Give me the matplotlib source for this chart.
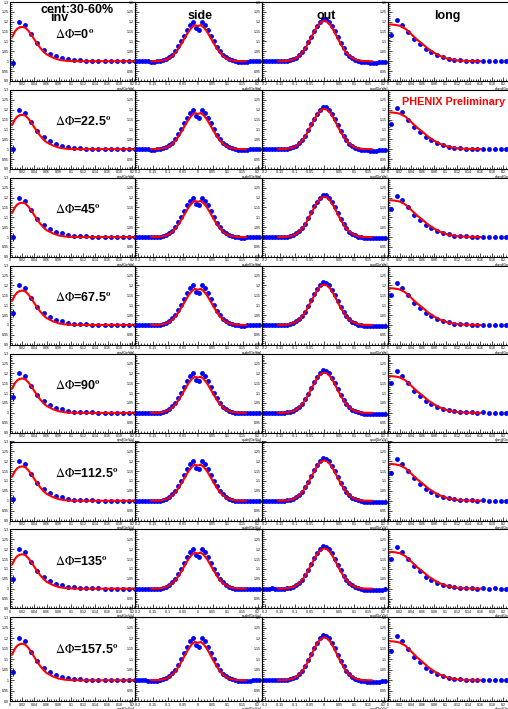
import numpy as np
import matplotlib
matplotlib.use("Agg")
import matplotlib.pyplot as plt
from matplotlib.ticker import MultipleLocator, FormatStrFormatter

plt.rcParams['font.family'] = ['Liberation Sans', 'DejaVu Sans']
plt.rcParams['mathtext.fontset'] = 'stix'

# ---- data ----
dphi_labels = ['0', '22.5', '45', '67.5', '90', '112.5', '135', '157.5']
col_titles = ['inv', 'side', 'out', 'long']
x_titles = ['qinv[GeV/c]', 'qside[GeV/c]', 'qout[GeV/c]', 'qlong[GeV/c]']

inv_q = [0.005, 0.015, 0.025, 0.035, 0.045, 0.055, 0.065, 0.075, 0.085, 0.095, 0.105,
         0.115, 0.125, 0.135, 0.145, 0.155, 0.165, 0.175, 0.185, 0.195, 0.205]
inv_c = [0.99, 1.200, 1.185, 1.137, 1.090, 1.059, 1.039, 1.025, 1.018, 1.010, 1.006,
         1.004, 1.003, 1.002, 1.001, 1.000, 1.000, 1.000, 1.000, 1.000, 1.000]
inv_err = [0.02, 0.005, 0.004, 0.003, 0.003, 0.002, 0.002, 0.002, 0.002, 0.002, 0.002,
           0.002, 0.002, 0.002, 0.002, 0.002, 0.002, 0.002, 0.002, 0.002, 0.002]
inv_first = [0.99, 1.00, 1.00, 1.06, 1.08, 1.01, 1.05, 1.04]   # first bin, per row

inv_fit_q = [0.004, 0.008, 0.012, 0.016, 0.02, 0.025, 0.03, 0.035, 0.04, 0.045, 0.05,
             0.055, 0.06, 0.07, 0.08, 0.09, 0.1, 0.12, 0.15, 0.2, 0.205]
inv_fit_c = [1.125, 1.150, 1.165, 1.172, 1.174, 1.170, 1.155, 1.134, 1.110, 1.087, 1.066,
             1.049, 1.035, 1.019, 1.008, 1.003, 1.001, 1.000, 1.000, 1.000, 1.000]

sym_q = [-0.205, -0.195, -0.185, -0.175, -0.165, -0.155, -0.145, -0.135, -0.125, -0.115,
         -0.105, -0.095, -0.085, -0.075, -0.065, -0.055, -0.045, -0.035, -0.025, -0.015,
         -0.005, 0.005, 0.015, 0.025, 0.035, 0.045, 0.055, 0.065, 0.075, 0.085,
         0.095, 0.105, 0.115, 0.125, 0.135, 0.145, 0.155, 0.165, 0.175, 0.185, 0.195, 0.205]
side_c = [1.000, 1.000, 1.000, 1.000, 0.999, 0.998, 0.998, 0.999, 1.000, 1.004,
          1.010, 1.020, 1.033, 1.050, 1.075, 1.100, 1.130, 1.160, 1.185, 1.200,
          1.168, 1.160, 1.200, 1.185, 1.160, 1.130, 1.100, 1.073, 1.050, 1.032,
          1.020, 1.010, 1.004, 1.000, 0.998, 0.997, 0.997, 0.998, 0.999, 1.000, 1.000, 1.000]
out_c = [1.000, 1.000, 1.000, 1.001, 1.000, 1.000, 1.000, 1.000, 1.002, 1.005,
         1.010, 1.018, 1.030, 1.046, 1.068, 1.095, 1.125, 1.155, 1.180, 1.200,
         1.215, 1.212, 1.200, 1.178, 1.152, 1.122, 1.092, 1.066, 1.044, 1.028,
         1.016, 1.008, 1.002, 0.998, 0.995, 0.994, 0.993, 0.993, 0.993, 0.994, 0.995, 0.996]

side_fit_q = [-0.155, -0.13, -0.11, -0.1, -0.09, -0.08, -0.07, -0.06, -0.05, -0.04, -0.03,
              -0.02, -0.01, 0.0, 0.01, 0.02, 0.03, 0.04, 0.05, 0.06, 0.07, 0.08, 0.09,
              0.1, 0.11, 0.13, 0.16]
side_fit_c = [1.000, 1.001, 1.006, 1.012, 1.021, 1.034, 1.052, 1.075, 1.100, 1.127, 1.152,
              1.171, 1.183, 1.178, 1.183, 1.171, 1.152, 1.127, 1.100, 1.075, 1.052, 1.034,
              1.021, 1.012, 1.006, 1.001, 1.000]
out_fit_c = [1.000, 1.001, 1.006, 1.012, 1.021, 1.034, 1.052, 1.076, 1.103, 1.132, 1.160,
             1.184, 1.199, 1.204, 1.199, 1.184, 1.160, 1.132, 1.103, 1.076, 1.052, 1.034,
             1.021, 1.012, 1.006, 1.001, 1.000]

long_q = [0.005, 0.015, 0.025, 0.035, 0.045, 0.055, 0.065, 0.075, 0.085, 0.095, 0.105,
          0.115, 0.125, 0.135, 0.145, 0.155, 0.165, 0.175, 0.185, 0.195, 0.205, 0.215]
long_c = [1.13, 1.21, 1.186, 1.150, 1.113, 1.087, 1.060, 1.045, 1.030, 1.021, 1.013,
          1.007, 1.004, 1.003, 1.002, 1.000, 1.002, 1.000, 1.001, 1.000, 1.000, 1.000]
long_first = [1.134, 1.125, 1.14, 1.15, 1.15, 1.14, 1.15, 1.14]

long_fit_q = [0.004, 0.01, 0.02, 0.03, 0.04, 0.05, 0.06, 0.07, 0.08, 0.09, 0.1,
              0.11, 0.12, 0.14, 0.16]
long_fit_c = [1.186, 1.185, 1.180, 1.165, 1.138, 1.110, 1.087, 1.062, 1.043, 1.027, 1.016,
              1.009, 1.004, 1.001, 1.000]

sym_err = [0.003] * len(sym_q)
long_err = [0.004] * len(long_q)

# ---- layout (pixels) ----
W, H = 508, 709
col_left = [10, 135, 262, 388]
col_width = [125, 127, 126, 127]
row_top0, row_pitch, frame_h = 2, 87.9, 79
xlims = [(0, 0.205), (-0.21, 0.215), (-0.21, 0.215), (0, 0.22)]
xmajor = [0.02, 0.05, 0.05, 0.02]
pt_style = dict(fmt='o', color='blue', ms=3.5, mew=0, ecolor='black',
                elinewidth=0.6, capsize=0, zorder=2)

fig = plt.figure(figsize=(W / 100, H / 100), dpi=100)

for r in range(8):
    for c in range(4):
        top = row_top0 + row_pitch * r
        h = frame_h if r < 7 else 84
        ax = fig.add_axes([col_left[c] / W, 1 - (top + h) / H,
                           col_width[c] / W, h / H])
        if c == 0:
            y = list(inv_c)
            y[0] = inv_first[r]
            ax.errorbar(inv_q, y, yerr=inv_err, **pt_style)
            ax.plot(inv_fit_q, inv_fit_c, color='red', lw=1.5, zorder=3)
        elif c == 1:
            ax.errorbar(sym_q, side_c, yerr=sym_err, **pt_style)
            ax.plot(side_fit_q, side_fit_c, color='red', lw=1.5, zorder=3)
        elif c == 2:
            ax.errorbar(sym_q, out_c, yerr=sym_err, **pt_style)
            ax.plot(side_fit_q, out_fit_c, color='red', lw=1.5, zorder=3)
        else:
            y = list(long_c)
            y[0] = long_first[r]
            ax.errorbar(long_q, y, yerr=long_err, **pt_style)
            ax.plot(long_fit_q, long_fit_c, color='red', lw=1.5, zorder=3)

        ax.set_xlim(*xlims[c])
        ax.set_ylim(0.9, 1.3)
        ax.xaxis.set_major_locator(MultipleLocator(xmajor[c]))
        ax.xaxis.set_minor_locator(MultipleLocator(xmajor[c] / 5))
        ax.yaxis.set_major_locator(MultipleLocator(0.05))
        ax.yaxis.set_minor_locator(MultipleLocator(0.01))
        ax.xaxis.set_major_formatter(FormatStrFormatter('%g'))
        ax.yaxis.set_major_formatter(FormatStrFormatter('%g'))
        ax.tick_params(which='both', direction='in', top=False, right=False,
                       labelsize=2.5, pad=1, width=0.5)
        ax.tick_params(which='major', length=3)
        ax.tick_params(which='minor', length=1.5)
        for sp in ax.spines.values():
            sp.set_linewidth(0.8)
        ax.set_xlabel(x_titles[c], fontsize=2.5, loc='right', labelpad=0.3)
        ax.patch.set_alpha(0)


def ftext(x, y, s, **kw):
    fig.text(x / W, 1 - y / H, s, **kw)


ftext(77, 10, 'cent:30-60%', ha='center', va='center', fontsize=9, fontweight='bold')
ftext(59, 18, 'inv', ha='center', va='center', fontsize=9, fontweight='bold')
ftext(200, 16, 'side', ha='center', va='center', fontsize=9, fontweight='bold')
ftext(326, 16, 'out', ha='center', va='center', fontsize=9, fontweight='bold')
ftext(447, 16, 'long', ha='center', va='center', fontsize=9, fontweight='bold')
ftext(454, 102, 'PHENIX Preliminary', ha='center', va='center', fontsize=7.8,
      fontweight='bold', color='red')
for r, lab in enumerate(dphi_labels):
    ftext(55, 34 + row_pitch * r, r'$\Delta\Phi$=' + lab + r'$^{\mathbf{o}}$',
          ha='left', va='center', fontsize=9, fontweight='bold')

fig.savefig('out.png', dpi=100)
